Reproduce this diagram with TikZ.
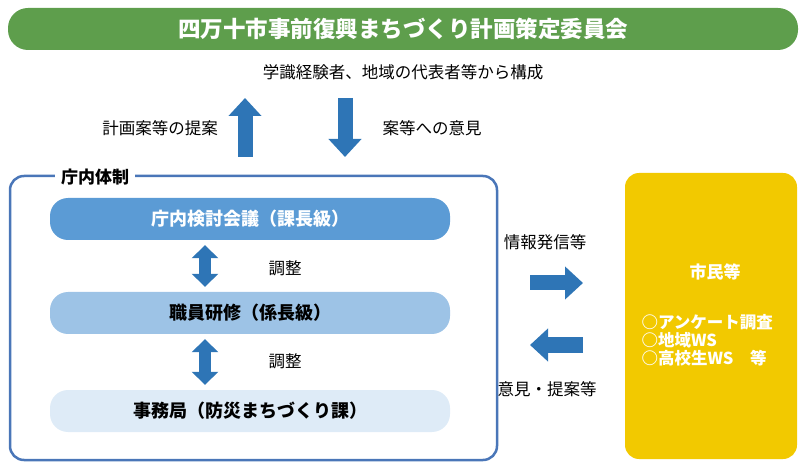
\documentclass[tikz,border=0pt]{standalone}
\usepackage{fontspec}
\setmainfont{Noto Sans CJK JP}
\usetikzlibrary{arrows.meta}
\definecolor{grn}{HTML}{5E9E4C}
\definecolor{blu}{HTML}{2E75B6}
\definecolor{p1}{HTML}{5B9BD5}
\definecolor{p2}{HTML}{9DC3E6}
\definecolor{p3}{HTML}{DEEBF7}
\definecolor{ylw}{HTML}{F2C900}
\definecolor{bord}{HTML}{4A76B8}
\begin{document}
\begin{tikzpicture}[x=1pt,y=-1pt,
  lbl/.style={font=\fontsize{16.5}{18}\selectfont},
  pill/.style={rounded corners=18pt,minimum width=400pt,minimum height=42pt,font=\bfseries\fontsize{18}{20}\selectfont},
  bigarr/.style={draw=blu,line width=15pt,-{Triangle[width=32pt,length=18pt]}},
  dblarr/.style={draw=blu,line width=12pt,{Triangle[width=26pt,length=13pt]}-{Triangle[width=26pt,length=13pt]}}]
\useasboundingbox (0,0) rectangle (806,470);
\node[fill=grn,rounded corners=20pt,minimum width=790pt,minimum height=42pt,text=white,font=\bfseries\fontsize{22.5}{24}\selectfont] (top) at (403,29) {四万十市事前復興まちづくり計画策定委員会};
\node[lbl] (sub) at (403,72) {学識経験者、地域の代表者等から構成};
\coordinate (ua) at (245,157); \coordinate (ub) at (245,98);
\coordinate (da) at (345,98); \coordinate (db) at (345,157);
\draw[bigarr] (ua) -- (ub);
\draw[bigarr] (da) -- (db);
\node[lbl] (l1) at (160,128) {計画案等の提案};
\node[lbl] (l2) at (432,128) {案等への意見};
\draw[bord,line width=2.5pt,rounded corners=14pt] (10,176) rectangle (497,460);
\node[lbl,fill=white,inner xsep=6pt,font=\bfseries\fontsize{17}{19}\selectfont] (tn) at (95,177) {庁内体制};
\node[pill,fill=p1,text=white] (a) at (250,219) {庁内検討会議（課長級）};
\node[pill,fill=p2] (b) at (250,313) {職員研修（係長級）};
\node[pill,fill=p3] (c) at (250,411) {事務局（防災まちづくり課）};
\draw[dblarr] ([yshift=-5pt]a.south -| 205,0) -- ([yshift=5pt]b.north -| 205,0);
\draw[dblarr] ([yshift=-5pt]b.south -| 205,0) -- ([yshift=5pt]c.north -| 205,0);
\node[lbl] (c1) at (285,268) {調整};
\node[lbl] (c2) at (285,361) {調整};
\node[fill=ylw,rounded corners=14pt,minimum width=172pt,minimum height=286pt] (y) at (711,316) {};
\node[text=white,font=\bfseries\fontsize{17}{19}\selectfont] (ct) at (715,272) {市民等};
\node[text=white,font=\bfseries\fontsize{16.5}{18}\selectfont,align=left,anchor=north west] (lst) at (638,311) {○アンケート調査\\○地域WS\\○高校生WS\quad 等};
\coordinate (r1) at (530,283); \coordinate (r2) at (583,283);
\coordinate (s1) at (583,345); \coordinate (s2) at (530,345);
\draw[bigarr] (r1) -- (r2);
\draw[bigarr] (s1) -- (s2);
\node[lbl] (i1) at (545,242) {情報発信等};
\node[lbl] (i2) at (547,389) {意見・提案等};
\end{tikzpicture}
\end{document}
